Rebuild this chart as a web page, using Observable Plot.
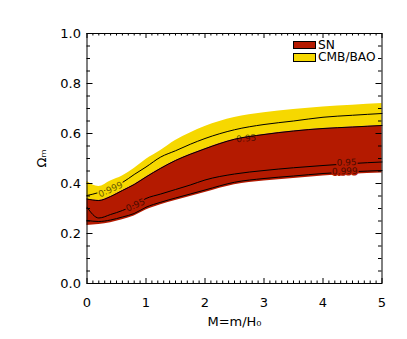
<!DOCTYPE html>
<html><head><meta charset="utf-8">
<script src="https://cdn.jsdelivr.net/npm/d3@7"></script>
<script src="https://cdn.jsdelivr.net/npm/@observablehq/plot@0.6"></script>
<style>
html,body{margin:0;padding:0;background:#fff;}
#wrap{position:relative;width:407px;height:339px;}
.lg{position:absolute;font-family:"DejaVu Sans",sans-serif;font-size:12.2px;color:#000;line-height:12px;height:12px;white-space:nowrap;}
.sw{position:absolute;box-sizing:border-box;border:1px solid #000;}
</style></head><body>
<div id="wrap"></div>
<script>
// ---- data ----
const M        = [0, 0.2, 0.4, 0.6, 0.8, 1.0, 1.25, 1.5, 1.75, 2, 2.5, 3, 3.5, 4, 4.5, 5];
const cmbHigh  = [0.408, 0.388, 0.41, 0.43, 0.46, 0.496, 0.532, 0.572, 0.602, 0.628, 0.664, 0.683, 0.696, 0.706, 0.713, 0.72];
const cmb999   = [0.352, 0.364, 0.382, 0.404, 0.436, 0.466, 0.506, 0.531, 0.557, 0.58, 0.615, 0.636, 0.65, 0.665, 0.673, 0.68];
const snHigh   = [0.338, 0.332, 0.348, 0.372, 0.396, 0.426, 0.461, 0.492, 0.517, 0.539, 0.577, 0.596, 0.61, 0.62, 0.626, 0.632];
const sn95     = [0.305, 0.262, 0.276, 0.292, 0.313, 0.34, 0.358, 0.376, 0.394, 0.414, 0.438, 0.452, 0.463, 0.472, 0.48, 0.486];
const sn999    = [0.252, 0.248, 0.254, 0.266, 0.28, 0.305, 0.325, 0.342, 0.358, 0.374, 0.405, 0.42, 0.43, 0.44, 0.447, 0.452];
const snLow    = [0.232, 0.236, 0.243, 0.255, 0.27, 0.294, 0.315, 0.332, 0.348, 0.364, 0.395, 0.41, 0.42, 0.43, 0.437, 0.442];

const labelsOnYellow = [{x: 0.40, y: 0.376, t: "0.999", r: -24}];
const labelsOnRed    = [
  {x: 0.82, y: 0.314, t: "0.95", r: -24},
  {x: 4.40, y: 0.484, t: "0.95", r: -2},
  {x: 4.37, y: 0.449, t: "0.999", r: -2}
];
const labelsOnEdge   = [{x: 2.70, y: 0.580, t: "0.95", r: -5}];
const xTicks = [0, 1, 2, 3, 4, 5];
const yTicks = [0, 0.2, 0.4, 0.6, 0.8, 1.0];
const legendItems = ["SN", "CMB/BAO"];

const RED = "#b41a00", YELLOW = "#f6d800";
const INK_RED = "#4a0c00", INK_YELLOW = "#6a5a00";

const rows = M.map((m, i) => ({M: m, cmbHigh: cmbHigh[i], cmb999: cmb999[i], snHigh: snHigh[i], sn95: sn95[i], sn999: sn999[i], snLow: snLow[i]}));
const xMinor = d3.range(0, 5.0001, 0.1).filter(v => Math.abs(v - Math.round(v)) > 1e-6);
const yMinor = d3.range(0, 1.0001, 0.05).filter(v => Math.abs(v*5 - Math.round(v*5)) > 1e-6);

const FH = 250, FW = 295;
const plot = Plot.plot({
  width: 407, height: 339,
  marginLeft: 86.5, marginRight: 25.5, marginTop: 33, marginBottom: 56,
  x: {domain: [0, 5]},
  y: {domain: [0, 1]},
  style: {fontFamily: "DejaVu Sans", fontSize: "13px", background: "white", color: "black", overflow: "visible"},
  marks: [
    Plot.areaY(rows, {x: "M", y1: "snHigh", y2: "cmbHigh", fill: YELLOW, curve: "monotone-x"}),
    Plot.areaY(rows, {x: "M", y1: "snLow", y2: "snHigh", fill: RED, curve: "monotone-x"}),
    Plot.line(rows, {x: "M", y: "cmb999", stroke: "black", strokeWidth: 1, curve: "monotone-x"}),
    Plot.line(rows, {x: "M", y: "snHigh", stroke: "black", strokeWidth: 1, curve: "monotone-x"}),
    Plot.line(rows, {x: "M", y: "sn95", stroke: "black", strokeWidth: 1, curve: "monotone-x"}),
    Plot.line(rows, {x: "M", y: "sn999", stroke: "black", strokeWidth: 1, curve: "monotone-x"}),
    Plot.text(labelsOnYellow, {x: "x", y: "y", text: "t", rotate: "r", fontSize: 9, fill: INK_YELLOW, stroke: YELLOW, strokeWidth: 3}),
    Plot.text(labelsOnRed, {x: "x", y: "y", text: "t", rotate: "r", fontSize: 9, fill: INK_RED, stroke: RED, strokeWidth: 3}),
    Plot.text(labelsOnEdge, {x: "x", y: "y", text: "t", rotate: "r", fontSize: 9, fill: "black", fillOpacity: 0.6}),
    // inward ticks on all four sides
    Plot.tickX(xTicks, {x: d => d, insetTop: FH - 5, stroke: "black"}),
    Plot.tickX(xTicks, {x: d => d, insetBottom: FH - 5, stroke: "black"}),
    Plot.tickX(xMinor, {x: d => d, insetTop: FH - 2.5, stroke: "black"}),
    Plot.tickX(xMinor, {x: d => d, insetBottom: FH - 2.5, stroke: "black"}),
    Plot.tickY(yTicks, {y: d => d, insetRight: FW - 6, stroke: "black"}),
    Plot.tickY(yTicks, {y: d => d, insetLeft: FW - 6, stroke: "black"}),
    Plot.tickY(yMinor, {y: d => d, insetRight: FW - 3.5, stroke: "black"}),
    Plot.tickY(yMinor, {y: d => d, insetLeft: FW - 3.5, stroke: "black"}),
    Plot.frame({stroke: "black"}),
    Plot.axisX(xTicks, {tickSize: 0, tickPadding: 14, tickFormat: d => String(d), label: "M=m/H₀", labelAnchor: "center", labelArrow: "none", labelOffset: 42}),
    Plot.axisY(yTicks, {tickSize: 0, tickPadding: 6, tickFormat: d3.format(".1f"), label: "Ωₘ", labelAnchor: "center", labelArrow: "none", labelOffset: 50})
  ]
});
const wrap = document.getElementById("wrap");
wrap.appendChild(plot);

// legend (inside plot area, top right)
const lg = [
  {name: legendItems[0], color: RED, top: 41, h: 7.5, ty: 38.5},
  {name: legendItems[1], color: YELLOW, top: 52.5, h: 9.5, ty: 51}
];
lg.forEach(d => {
  const sw = document.createElement("div");
  sw.className = "sw";
  Object.assign(sw.style, {left: "292.5px", top: d.top + "px", width: "23px", height: d.h + "px", background: d.color});
  wrap.appendChild(sw);
  const t = document.createElement("div");
  t.className = "lg";
  t.textContent = d.name;
  Object.assign(t.style, {left: "318px", top: d.ty + "px"});
  wrap.appendChild(t);
});
</script>
</body></html>
